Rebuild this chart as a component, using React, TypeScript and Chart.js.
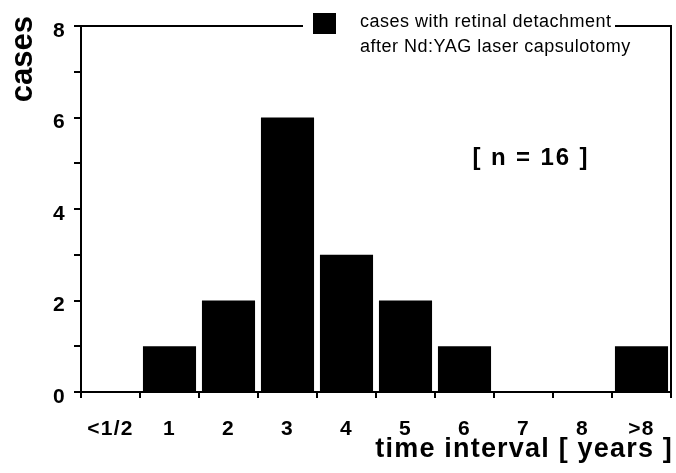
import React, { useEffect, useRef } from 'react';
import { Chart, registerables } from 'chart.js';

Chart.register(...registerables);

// ---- data ----
const categories = ['<1/2', '1', '2', '3', '4', '5', '6', '7', '8', '>8'];
const caseCounts = [0, 1, 2, 6, 3, 2, 1, 0, 0, 1];
const yMin = 0;
const yMax = 8;
const legendLines = ['cases with retinal detachment', 'after Nd:YAG laser capsulotomy'];
const annotationText = '[ n = 16 ]';
const xTitle = 'time interval [ years ]';
const yTitle = 'cases';

const FONT = '"Liberation Sans", Arial, Helvetica, sans-serif';

// wraps a scale's title drawing to adjust spacing / nudge position
function wrapTitle(s: any, dx: number, dy: number, spacing: string) {
  if (s.$wrapped) return;
  s.$wrapped = true;
  const orig = s.drawTitle;
  s.drawTitle = function (...args: any[]) {
    const c = this.ctx;
    c.save();
    c.translate(dx, dy);
    c.letterSpacing = spacing;
    orig.apply(this, args);
    c.restore();
  };
}

const framePlugin = {
  id: 'frame',
  beforeDraw(chart: any) {
    chart.ctx.letterSpacing = '1.2px';
  },
  afterDraw(chart: any) {
    const { ctx, chartArea: a } = chart;
    ctx.save();
    ctx.strokeStyle = '#000';
    ctx.lineWidth = 2;
    const gapL = 303;
    const gapR = 615;
    ctx.beginPath();
    ctx.moveTo(a.left, a.top);
    ctx.lineTo(gapL, a.top);
    ctx.moveTo(gapR, a.top);
    ctx.lineTo(a.right, a.top);
    ctx.lineTo(a.right, a.bottom);
    ctx.stroke();

    // legend
    const ds = chart.data.datasets[0];
    ctx.fillStyle = ds.backgroundColor;
    ctx.fillRect(313, 13, 23, 21);
    ctx.letterSpacing = '0.5px';
    ctx.font = `18px ${FONT}`;
    ctx.textAlign = 'left';
    ctx.textBaseline = 'alphabetic';
    ctx.fillStyle = '#000';
    (ds.label as string[]).forEach((l, i) => ctx.fillText(l, 360, 27 + i * 25));

    // annotation
    ctx.letterSpacing = '1.9px';
    ctx.font = `bold 24px ${FONT}`;
    ctx.textAlign = 'center';
    ctx.textBaseline = 'middle';
    ctx.fillText(annotationText, 531, 158);
    ctx.restore();
  },
};

export default function App() {
  const ref = useRef<HTMLCanvasElement>(null);
  useEffect(() => {
    if (!ref.current) return;
    const chart = new Chart(ref.current, {
      type: 'bar',
      data: {
        labels: categories,
        datasets: [
          {
            label: legendLines as any,
            data: caseCounts,
            backgroundColor: '#000',
            borderWidth: 0,
            barPercentage: 0.9,
            categoryPercentage: 1.0,
          },
        ],
      },
      options: {
        animation: false,
        responsive: true,
        maintainAspectRatio: false,
        layout: { padding: { top: 26, right: 5, left: 0, bottom: 0 } },
        plugins: { legend: { display: false }, tooltip: { enabled: false } },
        scales: {
          x: {
            grid: { offset: true, drawOnChartArea: false, drawTicks: true, tickLength: 6, color: '#000', lineWidth: 2 },
            border: { display: true, color: '#000', width: 2 },
            ticks: {
              color: '#000',
              font: { family: FONT, size: 21, weight: 'bold' },
              padding: 19,
              maxRotation: 0,
              autoSkip: false,
            },
            title: {
              display: true,
              text: xTitle,
              align: 'end',
              color: '#000',
              font: { family: FONT, size: 27, weight: 'bold', lineHeight: 1.2 },
              padding: { top: 0, bottom: 7 },
            },
            afterFit(s: any) {
              s.height = 81;
              wrapTitle(s, 2, 0, '1.2px');
            },
          },
          y: {
            min: yMin,
            max: yMax,
            grid: { drawOnChartArea: false, drawTicks: true, tickLength: 7, color: '#000', lineWidth: 2 },
            border: { display: true, color: '#000', width: 2 },
            ticks: {
              stepSize: 1,
              color: '#000',
              font: { family: FONT, size: 21, weight: 'bold' },
              padding: 8,
              labelOffset: 5,
              callback: (v: any) => (Number(v) % 2 === 0 ? String(v) : ''),
            },
            title: {
              display: true,
              text: yTitle,
              align: 'end',
              color: '#000',
              font: { family: FONT, size: 31, weight: 'bold', lineHeight: 1.2 },
              padding: { top: 3, bottom: 0 },
            },
            afterFit(s: any) {
              s.width = 81;
              wrapTitle(s, 2, -10, '0px');
            },
          },
        },
      },
      plugins: [framePlugin],
    });
    return () => chart.destroy();
  }, []);
  return (
    <div style={{ position: 'fixed', left: 0, top: 0, width: 676, height: 473, background: '#fff' }}>
      <canvas ref={ref} />
    </div>
  );
}
